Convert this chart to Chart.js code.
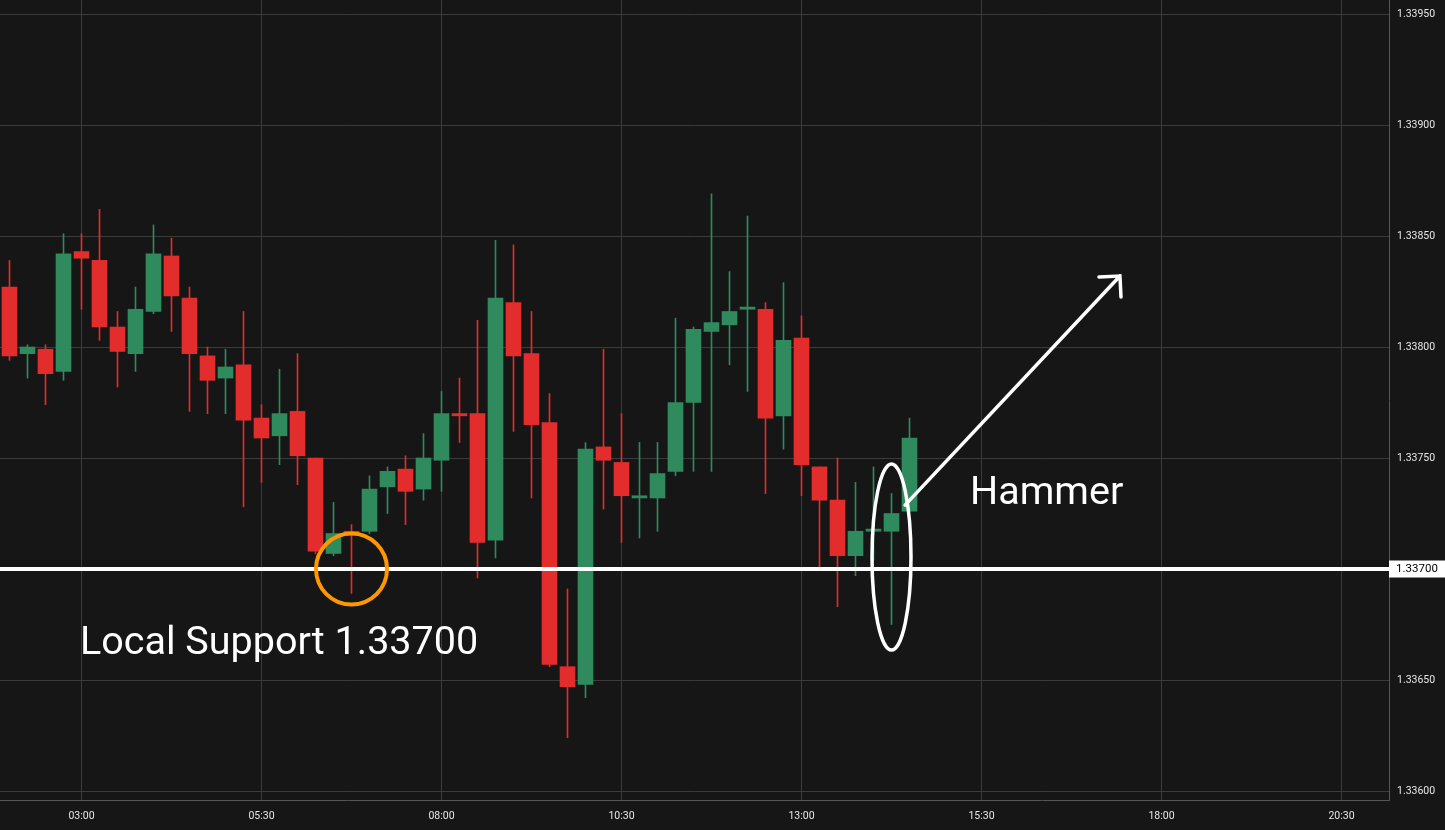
<!DOCTYPE html>
<html>
<head>
<meta charset="utf-8">
<script src="https://cdn.jsdelivr.net/npm/chart.js@4.4.0/dist/chart.umd.min.js"></script>
<style>
  html, body { margin: 0; padding: 0; background: #161616; overflow: hidden; }
  #wrap { width: 1445px; height: 830px; }
</style>
</head>
<body>
<div id="wrap"><canvas id="chart" width="1445" height="830"></canvas></div>
<script>
// 15 minute candles
const times = [
  '02:00', '02:15', '02:30', '02:45', '03:00', '03:15', '03:30', '03:45', '04:00', '04:15',
  '04:30', '04:45', '05:00', '05:15', '05:30', '05:45', '06:00', '06:15', '06:30', '06:45',
  '07:00', '07:15', '07:30', '07:45', '08:00', '08:15', '08:30', '08:45', '09:00', '09:15',
  '09:30', '09:45', '10:00', '10:15', '10:30', '10:45', '11:00', '11:15', '11:30', '11:45',
  '12:00', '12:15', '12:30', '12:45', '13:00', '13:15', '13:30', '13:45', '14:00', '14:15',
  '14:30'
];
const open = [
  1.33827, 1.33797, 1.33799, 1.33789, 1.33843, 1.33839, 1.33809, 1.33797, 1.33816, 1.33841,
  1.33822, 1.33796, 1.33786, 1.33792, 1.33768, 1.33760, 1.33771, 1.33750, 1.33707, 1.33717,
  1.33717, 1.33737, 1.33745, 1.33736, 1.33749, 1.33770, 1.33770, 1.33713, 1.33820, 1.33797,
  1.33766, 1.33656, 1.33648, 1.33755, 1.33748, 1.33732, 1.33732, 1.33744, 1.33775, 1.33807,
  1.33810, 1.33817, 1.33817, 1.33769, 1.33804, 1.33746, 1.33731, 1.33706, 1.33717, 1.33717,
  1.33726
];
const high = [
  1.33839, 1.33801, 1.33801, 1.33851, 1.33851, 1.33862, 1.33816, 1.33827, 1.33855, 1.33849,
  1.33827, 1.33800, 1.33799, 1.33816, 1.33774, 1.33790, 1.33797, 1.33750, 1.33730, 1.33720,
  1.33742, 1.33746, 1.33751, 1.33761, 1.33780, 1.33786, 1.33812, 1.33848, 1.33846, 1.33816,
  1.33779, 1.33691, 1.33757, 1.33799, 1.33770, 1.33757, 1.33757, 1.33813, 1.33809, 1.33869,
  1.33834, 1.33859, 1.33820, 1.33829, 1.33814, 1.33746, 1.33750, 1.33739, 1.33746, 1.33734,
  1.33768
];
const low = [
  1.33794, 1.33786, 1.33774, 1.33785, 1.33817, 1.33803, 1.33782, 1.33789, 1.33815, 1.33807,
  1.33771, 1.33770, 1.33770, 1.33728, 1.33739, 1.33747, 1.33738, 1.33707, 1.33706, 1.33689,
  1.33716, 1.33725, 1.33720, 1.33731, 1.33735, 1.33757, 1.33696, 1.33705, 1.33762, 1.33732,
  1.33656, 1.33624, 1.33642, 1.33727, 1.33712, 1.33714, 1.33717, 1.33742, 1.33744, 1.33744,
  1.33792, 1.33780, 1.33734, 1.33754, 1.33733, 1.33701, 1.33683, 1.33697, 1.33704, 1.33675,
  1.33726
];
const close = [
  1.33796, 1.33800, 1.33788, 1.33842, 1.33840, 1.33809, 1.33798, 1.33817, 1.33842, 1.33823,
  1.33797, 1.33785, 1.33791, 1.33767, 1.33759, 1.33770, 1.33751, 1.33708, 1.33716, 1.33716,
  1.33736, 1.33744, 1.33735, 1.33750, 1.33770, 1.33769, 1.33712, 1.33822, 1.33796, 1.33765,
  1.33657, 1.33647, 1.33754, 1.33749, 1.33733, 1.33733, 1.33743, 1.33775, 1.33808, 1.33811,
  1.33816, 1.33818, 1.33768, 1.33803, 1.33747, 1.33731, 1.33706, 1.33717, 1.33718, 1.33725,
  1.33759
];
const xTickLabels = ['03:00', '05:30', '08:00', '10:30', '13:00', '15:30', '18:00', '20:30'];
const yTicks = [1.33600, 1.33650, 1.33700, 1.33750, 1.33800, 1.33850, 1.33900, 1.33950];

const supportLevel = 1.33700;
const supportText = 'Local Support 1.33700';
const hammerText = 'Hammer';

const UP = '#2f8a5d';
const DOWN = '#e32d2d';
const TEXT = '#e6e6e6';
const GRID = '#3b3b3b';

function toMin(t) {
  const p = t.split(':');
  return parseInt(p[0]) * 60 + parseInt(p[1]);
}
function fmtMin(v) {
  const h = Math.floor(v / 60), m = Math.round(v % 60);
  return String(h).padStart(2, '0') + ':' + String(m).padStart(2, '0');
}

const candleColors = open.map(function (o, i) { return close[i] >= o ? UP : DOWN; });

// drawing the marks on top of the candles
const annotations = {
  id: 'annotations',
  afterDatasetsDraw(chart) {
    const ctx = chart.ctx;
    const xs = chart.scales.x, ys = chart.scales.y;
    const area = chart.chartArea;
    const yS = ys.getPixelForValue(supportLevel);
    ctx.save();

    // support line
    ctx.strokeStyle = '#ffffff';
    ctx.lineWidth = 4;
    ctx.beginPath();
    ctx.moveTo(area.left, yS);
    ctx.lineTo(area.right, yS);
    ctx.stroke();

    // orange circle round the 06:45 low
    ctx.strokeStyle = '#ff9800';
    ctx.lineWidth = 4;
    ctx.beginPath();
    ctx.arc(xs.getPixelForValue(toMin('06:45')), yS, 35.5, 0, Math.PI * 2);
    ctx.stroke();

    // ellipse round the hammer
    ctx.strokeStyle = '#ffffff';
    ctx.lineWidth = 3.5;
    ctx.beginPath();
    ctx.ellipse(xs.getPixelForValue(toMin('14:15')), ys.getPixelForValue(1.337054), 19.5, 93, 0, 0, Math.PI * 2);
    ctx.stroke();

    // arrow
    const x1 = xs.getPixelForValue(866.3), y1 = ys.getPixelForValue(1.337288);
    const x2 = xs.getPixelForValue(1045.4), y2 = ys.getPixelForValue(1.338320);
    ctx.lineWidth = 3.5;
    ctx.lineCap = 'round';
    ctx.beginPath();
    ctx.moveTo(x1, y1);
    ctx.lineTo(x2, y2);
    ctx.moveTo(x2 - 21, y2 + 1);
    ctx.lineTo(x2, y2);
    ctx.lineTo(x2 + 1, y2 + 21);
    ctx.stroke();

    // labels
    ctx.fillStyle = '#ffffff';
    ctx.font = '39.5px Roboto';
    ctx.textBaseline = 'alphabetic';
    ctx.textAlign = 'left';
    ctx.fillText(supportText, 80, ys.getPixelForValue(1.336616));
    ctx.fillText(hammerText, 970, ys.getPixelForValue(1.337293));
    ctx.restore();
  },
  afterDraw(chart) {
    const ctx = chart.ctx;
    const area = chart.chartArea;
    const yS = chart.scales.y.getPixelForValue(supportLevel);
    ctx.save();
    ctx.fillStyle = '#ffffff';
    ctx.fillRect(area.right, yS - 8.5, chart.width - area.right, 17);
    ctx.fillStyle = '#000000';
    ctx.font = '11.5px Roboto';
    ctx.textAlign = 'center';
    ctx.textBaseline = 'middle';
    ctx.fillText(supportLevel.toFixed(5), (area.right + chart.width) / 2, yS + 0.5);
    ctx.restore();
  }
};

const ctx = document.getElementById('chart').getContext('2d');
new Chart(ctx, {
  type: 'bar',
  data: {
    datasets: [{
      label: 'body',
      data: times.map(function (t, i) { return { x: toMin(t), y: [open[i], close[i]] }; }),
      backgroundColor: candleColors,
      barThickness: 15,
      minBarLength: 2
    }, {
      label: 'wick',
      data: times.map(function (t, i) { return { x: toMin(t), y: [low[i], high[i]] }; }),
      backgroundColor: candleColors,
      barThickness: 1
    }]
  },
  options: {
    responsive: false,
    animation: false,
    devicePixelRatio: 1,
    layout: { padding: 0 },
    plugins: { legend: { display: false }, tooltip: { enabled: false } },
    datasets: { bar: { grouped: false } },
    scales: {
      x: {
        type: 'linear',
        min: 112.083,
        max: 1269.583,
        offset: false,
        grid: { color: GRID, drawTicks: false, offset: false },
        border: { color: '#555555' },
        afterBuildTicks(scale) {
          scale.ticks = xTickLabels.map(function (t) { return { value: toMin(t) }; });
        },
        afterFit(scale) {
          scale.height = 30;
          scale.paddingLeft = 0;
          scale.paddingRight = 0;
        },
        ticks: {
          autoSkip: false,
          maxRotation: 0,
          padding: 10,
          color: TEXT,
          font: { family: 'Roboto', size: 10.5 },
          callback: function (v) { return fmtMin(v); }
        }
      },
      y: {
        position: 'right',
        min: 1.3359595,
        max: 1.3395631,
        grid: { color: GRID, drawTicks: false },
        border: { color: '#555555' },
        afterBuildTicks(scale) {
          scale.ticks = yTicks.map(function (v) { return { value: v }; });
        },
        afterFit(scale) {
          scale.width = 56;
          scale.paddingTop = 0;
          scale.paddingBottom = 0;
        },
        ticks: {
          padding: 8,
          color: TEXT,
          font: { family: 'Roboto', size: 10.5 },
          callback: function (v) { return v.toFixed(5); }
        }
      }
    }
  },
  plugins: [annotations, {
    id: 'bg',
    beforeDraw(chart) {
      chart.ctx.save();
      chart.ctx.fillStyle = '#161616';
      chart.ctx.fillRect(0, 0, chart.width, chart.height);
      chart.ctx.restore();
    }
  }]
});
</script>
</body>
</html>
